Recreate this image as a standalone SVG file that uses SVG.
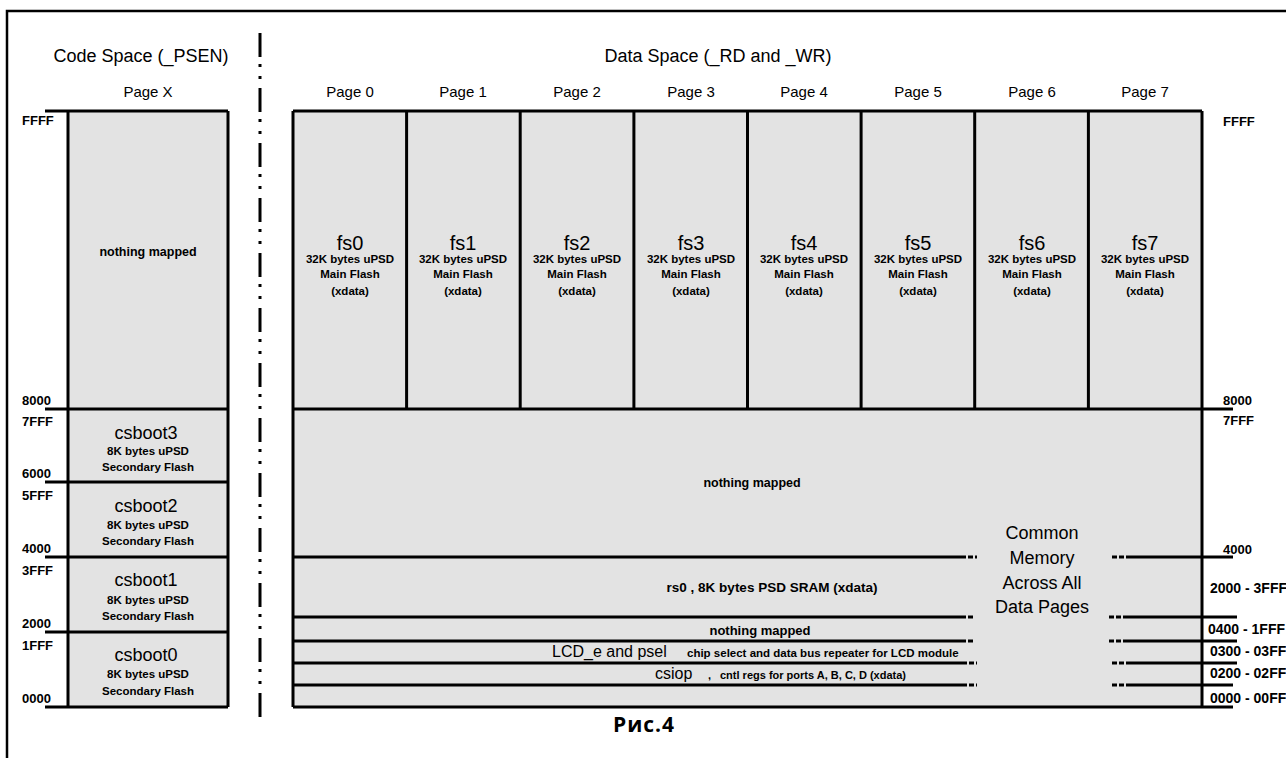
<svg xmlns="http://www.w3.org/2000/svg" width="1286" height="758" viewBox="0 0 1286 758">
<style>
text{font-family:"Liberation Sans",Arial,sans-serif;fill:#000}
.h{font-size:18px;text-anchor:middle}
.pg{font-size:15px;text-anchor:middle}
.big{font-size:20px;text-anchor:middle}
.cs{font-size:18px;text-anchor:middle}
.sm{font-size:11.5px;font-weight:bold;text-anchor:middle}
.nm{font-size:12.5px;font-weight:bold;text-anchor:middle}
.ad{font-size:13px;font-weight:bold}
.rg{font-size:14px;font-weight:bold}
.box{fill:#e3e3e3;stroke:none}
.ln{stroke:#000;stroke-width:3;fill:none}
.dl{stroke:#000;stroke-width:3;stroke-dasharray:5 2;fill:none}
</style>
<rect x="0" y="0" width="1286" height="758" fill="#fff"/>

<g id="frame">
<path d="M7,758 V11 H1286" fill="none" stroke="#000" stroke-width="2.5"/>
<path d="M260,33 V722" fill="none" stroke="#000" stroke-width="3" stroke-dasharray="24 7 3 9 3 9"/>
</g>

<g id="headers">
<text class="h" x="141" y="62">Code Space (_PSEN)</text>
<text class="pg" x="148" y="97">Page X</text>
<text class="h" x="718" y="62">Data Space (_RD and _WR)</text>
<text class="pg" x="350" y="97">Page 0</text>
<text class="pg" x="463" y="97">Page 1</text>
<text class="pg" x="577" y="97">Page 2</text>
<text class="pg" x="691" y="97">Page 3</text>
<text class="pg" x="804" y="97">Page 4</text>
<text class="pg" x="918" y="97">Page 5</text>
<text class="pg" x="1032" y="97">Page 6</text>
<text class="pg" x="1145" y="97">Page 7</text>
</g>

<g id="code-nothing">
<rect class="box" x="68" y="111" width="160" height="298"/>
<text class="nm" x="148" y="256">nothing mapped</text>
</g>
<g id="csboot3">
<rect class="box" x="68" y="409" width="160" height="73"/>
<text class="cs" x="146" y="439">csboot3</text>
<text class="sm" x="148" y="455">8K bytes uPSD</text>
<text class="sm" x="148" y="471">Secondary Flash</text>
</g>
<g id="csboot2">
<rect class="box" x="68" y="482" width="160" height="75"/>
<text class="cs" x="146" y="512">csboot2</text>
<text class="sm" x="148" y="529">8K bytes uPSD</text>
<text class="sm" x="148" y="545">Secondary Flash</text>
</g>
<g id="csboot1">
<rect class="box" x="68" y="557" width="160" height="75"/>
<text class="cs" x="146" y="586">csboot1</text>
<text class="sm" x="148" y="604">8K bytes uPSD</text>
<text class="sm" x="148" y="620">Secondary Flash</text>
</g>
<g id="csboot0">
<rect class="box" x="68" y="632" width="160" height="75"/>
<text class="cs" x="146" y="661">csboot0</text>
<text class="sm" x="148" y="678">8K bytes uPSD</text>
<text class="sm" x="148" y="695">Secondary Flash</text>
</g>

<g id="fs0"><rect class="box" x="293" y="111" width="113.6" height="298"/>
<text class="big" x="350" y="250">fs0</text><text class="sm" x="350" y="263">32K bytes uPSD</text><text class="sm" x="350" y="278">Main Flash</text><text class="sm" x="350" y="295">(xdata)</text></g>
<g id="fs1"><rect class="box" x="406.6" y="111" width="113.6" height="298"/>
<text class="big" x="463" y="250">fs1</text><text class="sm" x="463" y="263">32K bytes uPSD</text><text class="sm" x="463" y="278">Main Flash</text><text class="sm" x="463" y="295">(xdata)</text></g>
<g id="fs2"><rect class="box" x="520.2" y="111" width="113.6" height="298"/>
<text class="big" x="577" y="250">fs2</text><text class="sm" x="577" y="263">32K bytes uPSD</text><text class="sm" x="577" y="278">Main Flash</text><text class="sm" x="577" y="295">(xdata)</text></g>
<g id="fs3"><rect class="box" x="633.9" y="111" width="113.6" height="298"/>
<text class="big" x="691" y="250">fs3</text><text class="sm" x="691" y="263">32K bytes uPSD</text><text class="sm" x="691" y="278">Main Flash</text><text class="sm" x="691" y="295">(xdata)</text></g>
<g id="fs4"><rect class="box" x="747.5" y="111" width="113.6" height="298"/>
<text class="big" x="804" y="250">fs4</text><text class="sm" x="804" y="263">32K bytes uPSD</text><text class="sm" x="804" y="278">Main Flash</text><text class="sm" x="804" y="295">(xdata)</text></g>
<g id="fs5"><rect class="box" x="861.1" y="111" width="113.6" height="298"/>
<text class="big" x="918" y="250">fs5</text><text class="sm" x="918" y="263">32K bytes uPSD</text><text class="sm" x="918" y="278">Main Flash</text><text class="sm" x="918" y="295">(xdata)</text></g>
<g id="fs6"><rect class="box" x="974.7" y="111" width="113.6" height="298"/>
<text class="big" x="1032" y="250">fs6</text><text class="sm" x="1032" y="263">32K bytes uPSD</text><text class="sm" x="1032" y="278">Main Flash</text><text class="sm" x="1032" y="295">(xdata)</text></g>
<g id="fs7"><rect class="box" x="1088.4" y="111" width="113.6" height="298"/>
<text class="big" x="1145" y="250">fs7</text><text class="sm" x="1145" y="263">32K bytes uPSD</text><text class="sm" x="1145" y="278">Main Flash</text><text class="sm" x="1145" y="295">(xdata)</text></g>

<g id="common-area">
<rect class="box" x="293" y="409" width="909" height="298"/>
</g>
<g id="data-nothing">
<text class="nm" x="752" y="487">nothing mapped</text>
</g>
<g id="rs0">
<text x="772" y="592" style="font-size:13.5px;font-weight:bold;text-anchor:middle">rs0 , 8K bytes PSD SRAM (xdata)</text>
</g>
<g id="row-nothing">
<text x="760" y="635" style="font-size:13px;font-weight:bold;text-anchor:middle">nothing mapped</text>
</g>
<g id="lcd">
<text x="552" y="657" style="font-size:16px">LCD_e and psel</text>
<text x="687" y="657" style="font-size:11.5px;font-weight:bold">chip select and data bus repeater for LCD module</text>
</g>
<g id="csiop">
<text x="655" y="679" style="font-size:16px">csiop</text>
<text x="708" y="679" style="font-size:11px;font-weight:bold">,</text>
<text x="720" y="679" style="font-size:11px;font-weight:bold">cntl regs for ports A, B, C, D (xdata)</text>
</g>
<g id="common-memory">
<text class="h" x="1042" y="539">Common</text>
<text class="h" x="1042" y="564">Memory</text>
<text class="h" x="1042" y="589">Across All</text>
<text class="h" x="1042" y="613">Data Pages</text>
</g>

<g id="connectors">
<path class="ln" d="M45,111 H228 M45,409 H228 M45,482 H228 M45,557 H228 M45,632 H228 M45,707 H228 M68,111 V707 M228,111 V707"/>
<path class="ln" d="M293,111 H1202 M293,111 V707 M1202,111 V707 M406.6,111 V409 M520.2,111 V409 M633.9,111 V409 M747.5,111 V409 M861.1,111 V409 M974.7,111 V409 M1088.4,111 V409 M293,409 H1233 M293,707 H1233"/>
<path class="ln" d="M293,557 H961 M1128,557 H1233 M293,617 H961 M1125,617 H1237 M293,641 H961 M1125,641 H1237 M293,663 H962 M1128,663 H1237 M293,685 H962 M1128,685 H1233"/>
<path class="dl" d="M961,557 H977 M1112,557 H1128 M961,617 H975 M1109,617 H1125 M961,641 H975 M1109,641 H1125 M962,663 H977 M1112,663 H1128 M962,685 H977 M1112,685 H1128"/>
</g>

<g id="addresses-left">
<text class="ad" x="22" y="125">FFFF</text>
<text class="ad" x="22" y="405">8000</text>
<text class="ad" x="22" y="426">7FFF</text>
<text class="ad" x="22" y="478">6000</text>
<text class="ad" x="22" y="500">5FFF</text>
<text class="ad" x="22" y="553">4000</text>
<text class="ad" x="22" y="575">3FFF</text>
<text class="ad" x="22" y="628">2000</text>
<text class="ad" x="22" y="650">1FFF</text>
<text class="ad" x="22" y="703">0000</text>
</g>
<g id="addresses-right">
<text class="ad" x="1223" y="126">FFFF</text>
<text class="ad" x="1223" y="405">8000</text>
<text class="ad" x="1223" y="425">7FFF</text>
<text class="ad" x="1223" y="554">4000</text>
<text class="rg" x="1210" y="593">2000 - 3FFF</text>
<text class="rg" x="1208" y="634">0400 - 1FFF</text>
<text class="rg" x="1210" y="656">0300 - 03FF</text>
<text class="rg" x="1210" y="678">0200 - 02FF</text>
<text class="rg" x="1210" y="703">0000 - 00FF</text>
</g>

<g id="caption">
<text x="613" y="732" style="font-family:'Open Sans','Noto Sans',sans-serif;font-size:21px;font-weight:bold;letter-spacing:1px">Рис.4</text>
</g>
</svg>
